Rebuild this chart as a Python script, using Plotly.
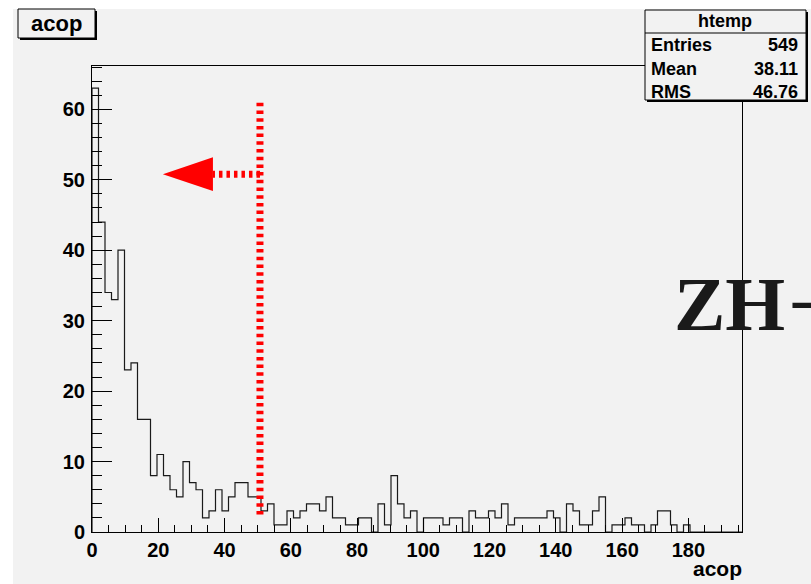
import plotly.graph_objects as go

# ---- histogram "htemp" of acop: 100 bins on [0, 196.2] ----
x_low, x_high = 0.0, 196.2
counts = [
    63, 44, 34, 33, 40, 23, 24, 16, 16, 8,
    11, 8, 6, 5, 10, 7, 6, 2, 3, 6,
    3, 5, 7, 7, 5, 5, 3, 4, 1, 1,
    3, 2, 3, 4, 4, 3, 5, 2, 2, 1,
    1, 2, 2, 0, 4, 1, 8, 4, 2, 3,
    0, 2, 2, 2, 1, 2, 2, 0, 3, 2,
    2, 3, 2, 4, 1, 2, 2, 2, 2, 2,
    3, 2, 0, 4, 3, 1, 1, 3, 5, 0,
    1, 1, 2, 1, 1, 0, 1, 3, 3, 1,
    0, 1, 0, 0, 0, 0, 0, 0, 0, 0,
]
y_max = 66.15

x_ticks = [0, 20, 40, 60, 80, 100, 120, 140, 160, 180]
y_ticks = [0, 10, 20, 30, 40, 50, 60]

stats_names = ["Entries", "Mean", "RMS"]
stats_values = ["549", "38.11", "46.76"]

# cut marker: vertical cut line and arrow pointing to the kept side
cut_x = 50.7
cut_y = (2.5, 61.2)
arrow_y = 50.8
arrow_tip_x = 21.4
arrow_base_x = 36.5
arrow_half_h = 2.4

# ---- canvas geometry (pixels) ----
W, H = 811, 584
L, R, T, B = 92, 742, 66, 532
PW, PH = R - L, B - T


def px(x):
    return (x - L) / PW


def py(y):
    return (B - y) / PH


BG = "#f2f2f2"
SANS = "Liberation Sans"

nb = len(counts)
bw = (x_high - x_low) / nb
edges = [x_low + i * bw for i in range(nb + 1)]
xs = [edges[0]] + edges[:-1] + [edges[-1]]
ys = [0] + counts + [0]

fig = go.Figure()
fig.add_trace(go.Scatter(
    x=xs, y=ys, mode="lines", line=dict(shape="hv", color="#1a1a1a", width=1.2),
    hoverinfo="skip", showlegend=False,
))

shapes = []
# white border strips around the canvas
shapes.append(dict(type="rect", xref="paper", yref="paper", x0=px(0), x1=px(13),
                   y0=py(H), y1=py(0), fillcolor="white", line_width=0, layer="below"))
shapes.append(dict(type="rect", xref="paper", yref="paper", x0=px(0), x1=px(W),
                   y0=py(9), y1=py(0), fillcolor="white", line_width=0, layer="below"))

# cut line and arrow
red = "#ff0000"
shapes.append(dict(type="line", xref="x", yref="y", x0=cut_x, x1=cut_x, y0=cut_y[0], y1=cut_y[1],
                   line=dict(color=red, width=7, dash="3.5px,4.2px")))
shapes.append(dict(type="line", xref="x", yref="y", x0=cut_x, x1=arrow_base_x, y0=arrow_y, y1=arrow_y,
                   line=dict(color=red, width=7, dash="3.5px,4px")))
shapes.append(dict(type="path", xref="x", yref="y",
                   path=f"M {arrow_tip_x},{arrow_y} L {arrow_base_x},{arrow_y + arrow_half_h} "
                        f"L {arrow_base_x},{arrow_y - arrow_half_h} Z",
                   fillcolor=red, line=dict(color=red, width=0)))


def shadow_box(x0, y0, x1, y1, off=2):
    shapes.append(dict(type="rect", xref="paper", yref="paper", x0=px(x0 + off), x1=px(x1 + off),
                       y0=py(y1 + off), y1=py(y0 + off), fillcolor="black", line_width=0, layer="above"))
    shapes.append(dict(type="rect", xref="paper", yref="paper", x0=px(x0), x1=px(x1),
                       y0=py(y1), y1=py(y0), fillcolor=BG, line=dict(color="black", width=1), layer="above"))


# title box
shadow_box(18, 9, 95, 38)
# statistics box
shadow_box(645, 10, 806, 100)
shapes.append(dict(type="line", xref="paper", yref="paper", x0=px(645), x1=px(806),
                   y0=py(33), y1=py(33), line=dict(color="black", width=1), layer="above"))

annotations = []


def label(text, x, y, size, xanchor="center", family=SANS, color="black"):
    annotations.append(dict(text=text, x=px(x), y=py(y), xref="paper", yref="paper",
                            xanchor=xanchor, yanchor="middle", showarrow=False,
                            borderpad=0, borderwidth=0,
                            font=dict(family=family, size=size, color=color, weight="bold")))


label("acop", 56.5, 23, 22)
label("htemp", 725, 20.5, 18)
for i, (n, v) in enumerate(zip(stats_names, stats_values)):
    yc = 45.5 + 23 * i
    label(n, 651, yc, 18, xanchor="left")
    label(v, 798, yc, 18, xanchor="right")

label("acop", 742, 568, 21, xanchor="right")

label("ZH", 674, 304, 77, xanchor="left", family="Liberation Serif", color="#1a1a1a")
label("\u2013", 792, 297, 77, xanchor="left", family="Liberation Serif", color="#1a1a1a")

tickfont = dict(family=SANS, size=20, color="black", weight="bold")

fig.update_layout(
    width=W, height=H, autosize=False,
    margin=dict(l=L, r=W - R, t=T, b=H - B, pad=0),
    paper_bgcolor=BG, plot_bgcolor=BG,
    shapes=shapes, annotations=annotations,
    showlegend=False,
    xaxis=dict(
        range=[x_low, x_high], showgrid=False, zeroline=False,
        showline=True, linecolor="black", linewidth=1, mirror=True,
        ticks="inside", ticklen=14, tickwidth=1, tickcolor="black",
        tickvals=x_ticks, ticktext=[str(v) for v in x_ticks],
        tickfont=tickfont, ticklabelstandoff=0,
        minor=dict(ticks="inside", ticklen=7, tickwidth=1, tickcolor="black", dtick=5, showgrid=False),
    ),
    yaxis=dict(
        range=[0, y_max], showgrid=False, zeroline=False,
        showline=True, linecolor="black", linewidth=1, mirror=True,
        ticks="inside", ticklen=20, tickwidth=1, tickcolor="black",
        tickvals=y_ticks, ticktext=[str(v) for v in y_ticks],
        tickfont=tickfont, ticklabelstandoff=2,
        minor=dict(ticks="inside", ticklen=10, tickwidth=1, tickcolor="black", dtick=2, showgrid=False),
    ),
)

fig.write_html("out.html")
